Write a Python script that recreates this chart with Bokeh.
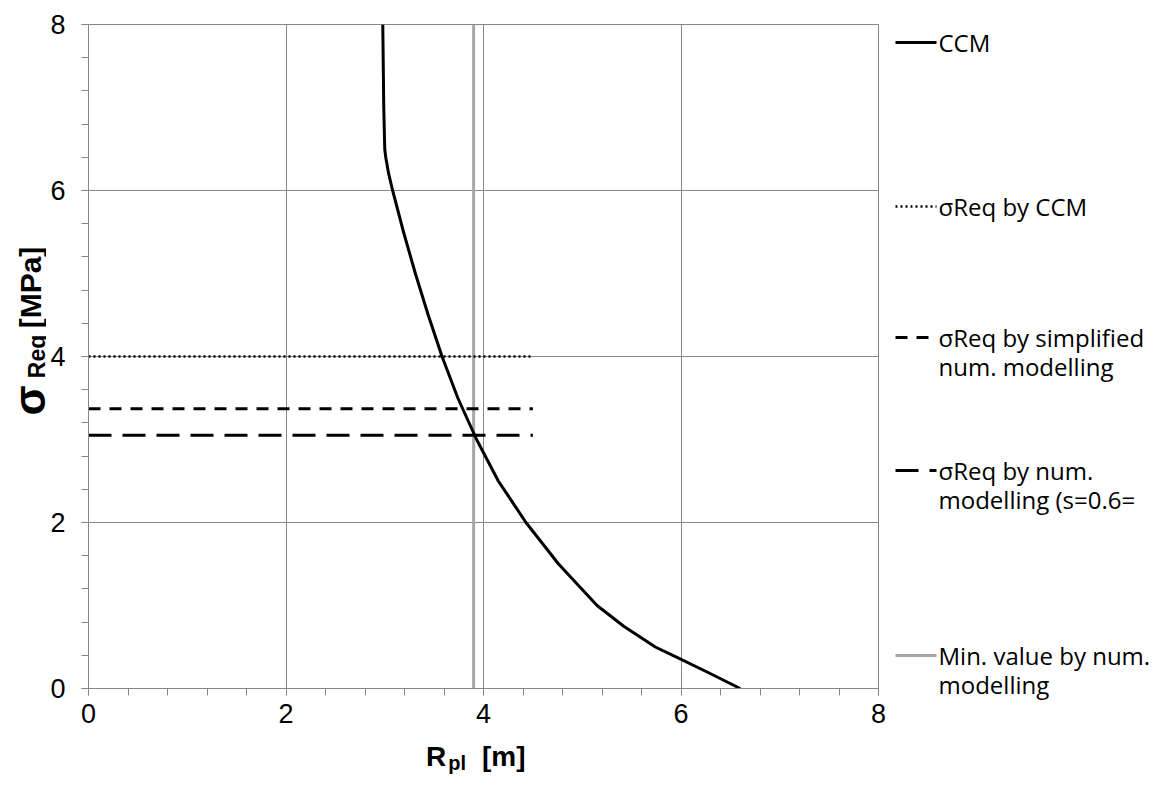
import math
from bokeh.plotting import figure
from bokeh.models import Range1d, SingleIntervalTicker, Div
from bokeh.layouts import row, column
from bokeh.embed import file_html
from bokeh.resources import INLINE
from bokeh.core.properties import value

# ---- data ----
ccm_r = [2.98, 2.99, 3.00, 3.01, 3.04, 3.08, 3.19, 3.31, 3.44, 3.58, 3.74, 3.93,
         4.15, 4.43, 4.76, 5.15, 5.42, 5.74, 5.97, 6.28, 6.60]
ccm_s = [8.00, 7.00, 6.50, 6.40, 6.20, 6.00, 5.50, 5.00, 4.50, 4.00, 3.50, 3.00,
         2.50, 2.00, 1.50, 1.00, 0.75, 0.50, 0.37, 0.19, 0.00]
hline_x = [0.0, 4.5]
sreq_ccm = 4.0
sreq_simpl = 3.37
sreq_num = 3.05
min_num_r = 3.9
ticks_major = 2
legend_labels = ["CCM", "σReq by CCM", "σReq by simplified\nnum. modelling",
                 "σReq by num.\nmodelling (s=0.6=", "Min. value by num.\nmodelling"]
x_title = ("R", "pl", "[m]")

GRID = "#868686"
MINGRAY = "#a6a6a6"
TICKFONT = "Liberation Sans"
TOTAL_H = 734
YT_W = 46
MAIN_W = 842
LG_W = 1151 - YT_W - MAIN_W
FRAME_TOP = 24
FRAME_H = 664


def no_align(fig):
    try:
        fig.frame_align = False
    except Exception:
        pass


def blank(width, height, xr, yr):
    f = figure(width=width, height=height, x_range=Range1d(*xr), y_range=Range1d(*yr),
               x_axis_type=None, y_axis_type=None, output_backend="svg",
               toolbar_location=None, min_border=0)
    f.outline_line_color = None
    f.grid.visible = False
    f.background_fill_color = "white"
    f.border_fill_color = "white"
    no_align(f)
    return f


# ---- main plot ----
p = figure(width=MAIN_W, height=TOTAL_H, x_range=Range1d(0, 8), y_range=Range1d(0, 8),
           output_backend="svg", toolbar_location=None,
           min_border_left=42, min_border_right=10, min_border_top=FRAME_TOP,
           min_border_bottom=TOTAL_H - FRAME_TOP - FRAME_H)
p.outline_line_color = GRID
p.background_fill_color = "white"
p.border_fill_color = "white"

for ax in (p.xaxis[0], p.yaxis[0]):
    ax.ticker = SingleIntervalTicker(interval=ticks_major, num_minor_ticks=5)
    ax.axis_line_color = GRID
    ax.major_tick_line_color = GRID
    ax.minor_tick_line_color = GRID
    ax.major_tick_out = 7
    ax.major_tick_in = 0
    ax.minor_tick_out = 7
    ax.minor_tick_in = 0
    ax.major_label_text_font = TICKFONT
    ax.major_label_text_font_size = "27px"
    ax.major_label_text_color = "black"
p.yaxis.major_label_standoff = 16
p.xaxis.major_label_standoff = 8
for g in (p.xgrid[0], p.ygrid[0]):
    g.ticker = SingleIntervalTicker(interval=ticks_major)
    g.grid_line_color = GRID
    g.grid_line_width = 1

p.line(x=[min_num_r, min_num_r], y=[0, 8], line_color=MINGRAY, line_width=3)
p.line(x=hline_x, y=[sreq_ccm, sreq_ccm], line_color="black", line_width=2.5, line_dash="2 3")
p.line(x=hline_x, y=[sreq_simpl, sreq_simpl], line_color="black", line_width=3, line_dash="12 9")
p.line(x=hline_x, y=[sreq_num, sreq_num], line_color="black", line_width=3, line_dash="23 11")
p.line(x=ccm_r, y=ccm_s, line_color="black", line_width=3, line_join="round")

# ---- y title panel (coordinates = page pixels) ----
yt = blank(YT_W, TOTAL_H, (8, 8 + YT_W), (8 + TOTAL_H, 8))
TF = value("Liberation Sans")
for txt, x, y, size in [("σ", 37, 408, "44px"), ("Req", 44, 364, "23px"), ("[MPa]", 38, 295, "30px")]:
    yt.text(x=[x], y=[y], text=[txt], text_font=TF, text_font_size=size, text_font_style="bold",
            text_color="black", angle=math.pi / 2, text_align="center", text_baseline="middle")

# ---- x title (HTML text, with a real subscript) ----
XT_H = 779 - 8 - TOTAL_H
xt_html = (
    '<div style="font-family:\'Liberation Sans\',Arial,sans-serif;font-size:28px;'
    'font-weight:bold;color:black;line-height:30px;white-space:nowrap;margin:0;'
    'padding-left:421px;padding-top:3px;">'
    f'{x_title[0]}<span style="font-size:20px;position:relative;top:4px;margin-left:2px;">{x_title[1]}</span>'
    f'<span style="margin-left:16px;">{x_title[2]}</span></div>'
)
xt = Div(text=xt_html, width=YT_W + MAIN_W, height=XT_H)

# ---- legend panel ----
lx0 = 8 + YT_W + MAIN_W
lg = blank(LG_W, TOTAL_H, (lx0, lx0 + LG_W), (8 + TOTAL_H, 8))
samples = [
    dict(line_color="black", line_width=3),
    dict(line_color="black", line_width=2.5, line_dash="2 3"),
    dict(line_color="black", line_width=3, line_dash="12 9"),
    dict(line_color="black", line_width=3, line_dash="23 11"),
    dict(line_color=MINGRAY, line_width=3),
]
ys = [50, 214, 345, 478, 663]
for lab_text, yy, st in zip(legend_labels, ys, samples):
    lg.line(x=[903, 944], y=[yy, yy], **st)
    for k, part in enumerate(lab_text.split("\n")):
        lg.text(x=[946], y=[yy + 29 * k], text=[part], text_font=value("Open Sans"),
                text_font_size="24px", text_color="black", text_baseline="middle", text_align="left")

layout = column(row(yt, p, lg), xt, spacing=0)
open("out.html", "w").write(file_html(layout, INLINE))
